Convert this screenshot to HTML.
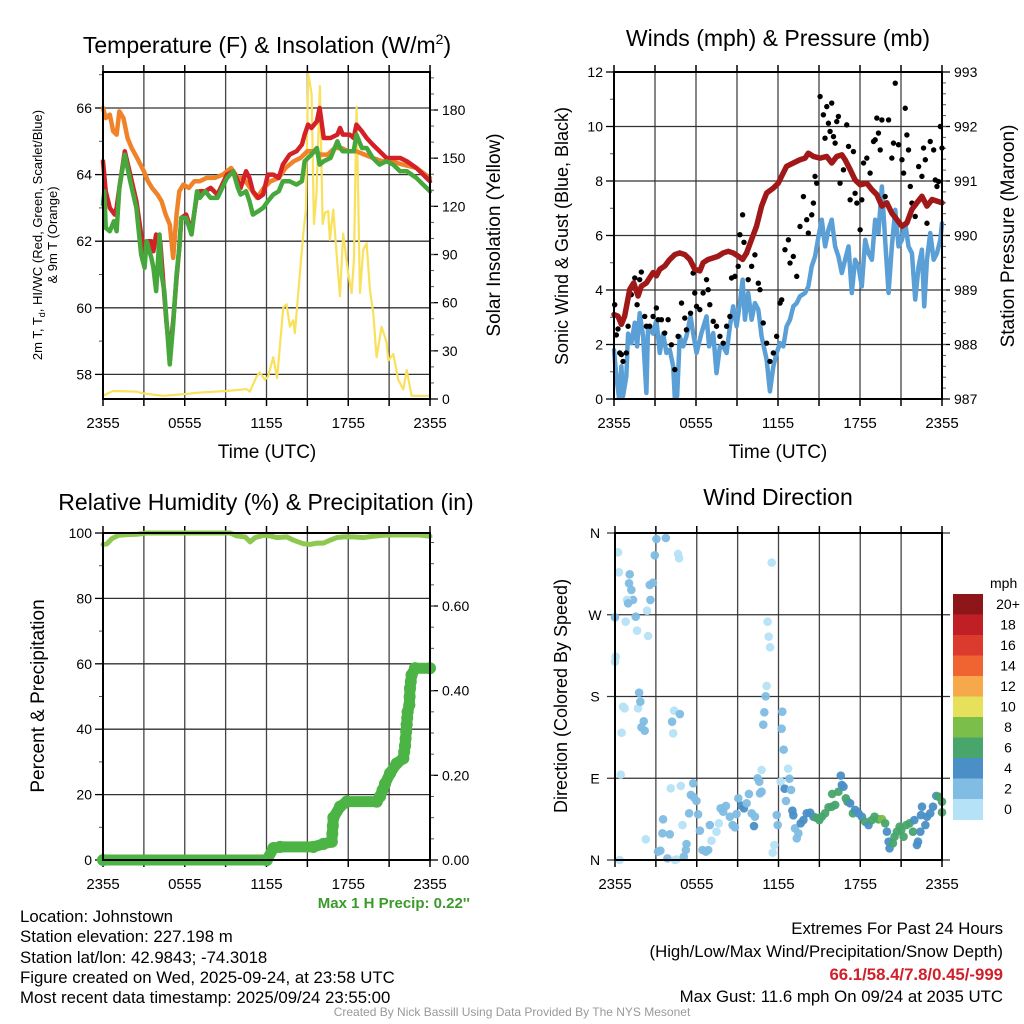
<!DOCTYPE html>
<html><head><meta charset="utf-8">
<style>
html,body{margin:0;padding:0;background:#fff;}
svg{display:block;font-family:"Liberation Sans",Arial,sans-serif;}
</style></head>
<body>
<svg id="chart" width="1024" height="1024" viewBox="0 0 1024 1024" xmlns="http://www.w3.org/2000/svg">
<rect x="0" y="0" width="1024" height="1024" fill="#fff"/>
<!-- titles -->
<text x="267" y="53" font-size="23" text-anchor="middle">Temperature (F) &amp; Insolation (W/m<tspan font-size="14" dy="-9">2</tspan><tspan dy="9">)</tspan></text>
<text x="778" y="46" font-size="23" text-anchor="middle">Winds (mph) &amp; Pressure (mb)</text>
<text x="266" y="510" font-size="23" text-anchor="middle">Relative Humidity (%) &amp; Precipitation (in)</text>
<text x="778" y="505" font-size="23" text-anchor="middle">Wind Direction</text>
<!-- axis titles -->
<text transform="translate(42,235) rotate(-90)" font-size="13" text-anchor="middle">2m T, T<tspan font-size="9" dy="3">d</tspan><tspan dy="-3">, HI/WC (Red, Green, Scarlet/Blue)</tspan></text>
<text transform="translate(57,235) rotate(-90)" font-size="13" text-anchor="middle">&amp; 9m T (Orange)</text>
<text transform="translate(500,235) rotate(-90)" font-size="19" text-anchor="middle">Solar Insolation (Yellow)</text>
<text x="267" y="458" font-size="19" text-anchor="middle">Time (UTC)</text>
<text transform="translate(568,236) rotate(-90)" font-size="18" text-anchor="middle">Sonic Wind &amp; Gust (Blue, Black)</text>
<text transform="translate(1014,236) rotate(-90)" font-size="19" text-anchor="middle">Station Pressure (Maroon)</text>
<text x="778" y="458" font-size="19" text-anchor="middle">Time (UTC)</text>
<text transform="translate(44,696) rotate(-90)" font-size="19" text-anchor="middle">Percent &amp; Precipitation</text>
<text transform="translate(567,696) rotate(-90)" font-size="18" text-anchor="middle">Direction (Colored By Speed)</text>
<text x="470" y="908" font-size="15" font-weight="bold" fill="#3a9a2a" text-anchor="end">Max 1 H Precip: 0.22''</text>
<!-- footer -->
<g font-size="16.8">
<text x="20" y="922">Location: Johnstown</text>
<text x="20" y="942">Station elevation: 227.198 m</text>
<text x="20" y="963">Station lat/lon: 42.9843; -74.3018</text>
<text x="20" y="983">Figure created on Wed, 2025-09-24, at 23:58 UTC</text>
<text x="20" y="1003">Most recent data timestamp: 2025/09/24 23:55:00</text>
</g>
<g font-size="16.8" text-anchor="end">
<text x="1003" y="934">Extremes For Past 24 Hours</text>
<text x="1003" y="957">(High/Low/Max Wind/Precipitation/Snow Depth)</text>
<text x="1003" y="980" fill="#d0202a" font-weight="bold">66.1/58.4/7.8/0.45/-999</text>
<text x="1003" y="1002">Max Gust: 11.6 mph On 09/24 at 2035 UTC</text>
</g>
<text x="512" y="1016" font-size="12" fill="#999" text-anchor="middle">Created By Nick Bassill Using Data Provided By The NYS Mesonet</text>
</svg>
<script>
// ---------- DATA ----------
const xTickLabels = ["2355","0555","1155","1755","2355"];
const tempTickLabels = [58,60,62,64,66];
const insolTickLabels = [0,30,60,90,120,150,180];
const windTickLabels = [0,2,4,6,8,10,12];
const pressTickLabels = [987,988,989,990,991,992,993];
const rhTickLabels = [0,20,40,60,80,100];
const precipTickLabels = ["0.00","0.20","0.40","0.60"];
const dirTickLabels = ["N","E","S","W","N"];
const speedLegendLabels = ["0","2","4","6","8","10","12","14","16","18","20+"];

const tTime = [0,0.2,0.5,0.86,1.0,1.2,1.6,2.0,2.45,2.8,3.05,3.2,3.55,3.7,3.9,4.2,4.4,4.65,4.9,5.15,5.4,5.6,5.75,6.1,6.5,6.9,7.1,7.5,7.9,8.4,9.1,9.55,9.9,10.1,10.5,10.75,11.0,11.4,11.75,12.1,12.5,12.9,13.2,13.7,14.2,14.6,14.8,15.05,15.3,15.7,15.9,16.2,16.7,17.2,17.4,17.6,18.1,18.4,18.6,19.0,19.35,19.8,20.3,20.8,21.3,21.8,22.3,23.0,23.5,24];
const tempRed = [64.4,63.5,63.0,62.8,63.0,63.6,64.7,64.0,63.2,62.2,61.4,62.0,62.0,61.7,62.2,62.0,60.9,59.6,58.6,59.6,60.9,61.8,62.7,62.8,62.3,63.4,63.5,63.5,63.6,63.4,64.0,64.1,63.8,63.6,64.1,63.9,63.5,63.3,63.4,64.0,64.0,63.9,64.3,64.6,64.7,64.9,65.2,65.5,65.4,65.6,66.0,65.1,65.1,65.2,65.4,65.2,65.2,65.1,65.5,65.3,65.1,64.9,64.7,64.5,64.5,64.5,64.4,64.2,64.0,63.8];
const dTime = [0,0.1,0.2,0.5,0.8,1.0,1.2,1.6,2.0,2.45,2.8,3.05,3.2,3.55,3.7,3.9,4.15,4.3,4.5,4.7,4.9,5.15,5.4,5.6,5.75,6.1,6.5,6.9,7.1,7.5,7.9,8.4,9.1,9.55,9.9,10.1,10.5,10.75,11.0,11.4,11.75,12.1,12.5,12.9,13.2,13.7,14.2,14.6,14.8,15.05,15.3,15.7,15.9,16.2,16.7,17.2,17.4,17.6,18.1,18.4,18.6,19.0,19.35,19.8,20.3,20.8,21.3,21.8,22.3,23.0,23.5,24];
const tempGreen = [63.1,63.5,62.4,62.3,62.6,62.3,63.6,64.6,63.8,63.0,61.6,61.2,62.0,61.5,61.2,60.5,62.2,61.0,60.5,59.4,58.3,59.5,61.0,61.8,62.7,62.7,62.2,63.5,63.3,63.5,63.3,63.3,63.9,64.1,63.6,63.4,63.5,63.2,62.8,62.9,63.0,63.2,63.4,63.5,63.8,63.8,63.7,63.8,64.4,64.5,64.6,64.8,64.3,64.4,64.5,65.0,64.8,64.7,64.7,64.7,65.2,64.8,64.8,64.5,64.3,64.4,64.3,64.1,64.1,63.9,63.7,63.5];
const oTime = [0,0.2,0.5,0.75,1.0,1.2,1.5,1.8,2.1,2.5,3.0,3.3,3.6,4.0,4.3,4.6,4.9,5.15,5.4,5.6,5.9,6.3,6.7,7.1,7.6,8.2,8.8,9.4,9.9,10.3,10.8,11.3,11.8,12.3,12.9,13.4,14.0,14.5,15.0,15.5,16.0,16.5,17.0,17.5,18.0,18.6,19.2,19.8,20.5,21.2,22.0,23.0,24];
const temp9m = [66.0,65.7,65.8,65.3,65.2,65.9,65.7,65.1,64.8,64.5,64.1,63.8,63.6,63.4,63.2,62.8,62.5,61.5,62.8,63.5,63.7,63.6,63.8,63.8,63.9,63.9,64.0,64.2,63.9,63.9,63.6,63.3,63.6,63.8,63.9,64.2,64.4,64.5,64.7,64.7,64.6,64.6,64.8,64.8,64.7,64.7,64.6,64.5,64.4,64.4,64.3,64.2,63.9];
const sTime = [0,0.73,2.45,2.94,4.41,5.88,7.1,9.06,10.53,10.78,11.27,11.51,11.88,12.12,12.49,12.78,13.23,13.47,13.72,13.96,14.08,14.33,14.7,14.89,15.06,15.31,15.48,15.67,15.92,16.12,16.29,16.53,16.65,16.9,17.14,17.39,17.63,18.0,18.25,18.42,18.61,18.86,19.1,19.35,19.59,19.84,20.08,20.45,20.82,20.94,21.31,21.67,22.04,22.29,22.65,24];
const insolation = [2,5,4.6,3.5,2,3,4,5,6.2,4.6,14,16.5,12,14,26,13,57,59,45,49,41,66,103,118,203,190,109,128,195,109,116,117,99,118,91,64,103,78,66,87,182,66,93,97,68,53,26,45,35,24,28,12,6,18,2,2];

const wTime = [0,.17,.37,.54,.66,.9,1.03,1.27,1.52,1.69,1.88,2.13,2.37,2.49,2.86,3.1,3.35,3.59,3.84,4.08,4.33,4.45,4.62,4.81,5.06,5.3,5.6,5.79,6.04,6.4,6.77,6.96,7.26,7.5,7.75,7.99,8.24,8.48,8.72,8.97,9.21,9.41,9.58,9.82,10.07,10.31,10.56,10.8,11.17,11.41,11.66,11.9,12.15,12.39,12.63,12.88,13.12,13.37,13.61,13.98,14.22,14.47,14.71,14.96,15.2,15.45,15.69,15.93,16.18,16.42,16.67,16.91,17.16,17.4,17.64,17.89,18.13,18.38,18.62,18.87,19.11,19.35,19.6,19.84,20.09,20.33,20.58,20.82,21.07,21.31,21.55,21.8,22.04,22.29,22.53,22.7,22.9,23.14,23.39,23.63,23.88,24];
const windSpeed = [1.8,.83,.04,1.2,.1,.83,2.4,2.05,2.8,1.93,3.15,2.3,.22,2.65,2.4,2.9,1.69,2.4,1.69,1.81,1.2,.04,.1,2.3,1.93,2.3,3.03,2.42,1.69,2.42,3.03,1.93,2.42,.95,1.93,1.93,1.69,2.67,3.4,2.67,3.52,4.38,2.91,3.89,2.91,3.52,3.28,2.3,1.44,.28,1.2,1.69,2.05,1.93,2.67,2.91,3.4,3.52,3.77,3.89,4.13,4.87,5.23,5.96,6.58,5.6,6.21,6.58,5.6,5.23,4.62,5.11,5.6,3.89,5.11,4.87,4.13,5.84,5.35,5.11,6.58,6.09,7.8,5.84,3.89,5.6,6.94,5.6,5.84,6.45,5.6,5.35,3.65,4.87,5.48,3.4,5.11,6.09,5.11,5.35,5.84,6.45];
const pTime = [0,.29,.54,.78,1.15,1.44,1.76,2.0,2.37,2.86,3.1,3.35,3.71,4.08,4.45,4.81,5.18,5.55,5.91,6.28,6.52,6.89,7.26,7.62,7.99,8.36,8.72,9.09,9.41,9.7,10.07,10.43,10.8,11.17,11.66,12.02,12.27,12.63,13.12,13.61,13.98,14.22,14.59,15.08,15.57,15.93,16.3,16.67,16.91,17.28,17.64,18.01,18.5,18.87,19.23,19.6,19.96,20.33,20.7,21.07,21.43,21.8,22.16,22.53,22.9,23.27,23.63,24];
const pressure = [988.55,988.52,988.37,988.52,989.01,989.13,988.89,989.07,989.13,989.32,989.26,989.38,989.44,989.56,989.65,989.68,989.65,989.56,989.38,989.35,989.5,989.56,989.59,989.62,989.68,989.71,989.68,989.62,989.56,989.68,989.93,990.17,990.54,990.78,990.87,990.96,991.09,991.27,991.33,991.39,991.42,991.51,991.45,991.42,991.45,991.33,991.45,991.48,991.39,991.21,991.02,990.93,990.96,990.84,990.75,990.54,990.6,990.41,990.29,990.17,990.23,990.48,990.6,990.72,990.54,990.66,990.63,990.6];
const gTime = [.05,.17,.29,.42,.54,.66,.9,1.03,1.27,1.52,1.69,1.88,2.0,2.25,2.37,2.61,2.86,3.1,3.23,3.47,3.71,3.96,4.2,4.45,4.69,4.94,5.18,5.3,5.6,5.79,5.91,6.04,6.28,6.52,6.77,6.89,7.01,7.26,7.5,7.75,7.99,8.24,8.48,8.6,8.85,9.09,9.21,9.41,9.51,9.7,9.82,10.07,10.31,10.56,10.68,10.92,11.17,11.41,11.66,11.9,12.15,12.27,12.51,12.76,12.88,13.12,13.37,13.61,13.86,14.1,14.22,14.47,14.59,14.71,14.83,15.08,15.32,15.44,15.57,15.69,15.81,15.93,16.06,16.18,16.3,16.42,16.54,16.79,17.03,17.16,17.28,17.52,17.64,17.77,18.01,18.13,18.26,18.5,18.74,18.99,19.11,19.23,19.35,19.48,19.6,19.84,20.09,20.33,20.45,20.58,20.82,21.07,21.19,21.31,21.43,21.55,21.68,21.8,22.04,22.29,22.53,22.65,22.78,22.9,23.14,23.39,23.51,23.63,23.75,23.88,24];
const gustSpeed = [3.46,2.35,2.57,1.69,1.63,1.38,1.69,2.67,3.83,4.44,3.46,4.38,4.66,3.03,2.67,2.67,3.03,3.34,2.91,2.91,2.42,2.91,1.99,1.08,2.3,3.52,2.97,2.54,3.15,4.62,3.89,3.4,3.28,3.89,4.38,4.01,3.46,2.85,2.67,2.3,2.05,2.67,3.03,4.44,4.5,4.87,6.03,6.76,5.75,5.35,4.38,4.87,5.29,4.25,4.01,2.79,2.05,1.38,1.69,2.3,3.52,3.64,5.48,5.84,4.99,5.23,4.5,6.33,7.43,6.58,6.09,6.76,7.19,8.17,7.92,11.1,10.43,9.57,10.73,10.12,9.82,10.86,9.63,9.39,10.18,10.37,7.92,8.41,10.06,9.27,7.31,9.08,7.55,7.19,6.21,7.31,8.66,8.84,8.29,9.45,9.51,10.31,9.76,9.14,10.24,7.43,10.24,8.84,9.39,11.59,9.33,8.78,8.29,10.67,9.69,9.14,7.8,7.19,6.7,8.53,8.17,9.21,8.78,6.45,9.45,9.14,8.04,7.8,7.98,10.0,9.21];

const rhTime = [0,.29,.66,1.15,1.76,2.49,3.23,4.2,6.65,8.6,9.34,9.82,10.43,10.8,11.17,11.78,12.27,12.76,13.49,13.98,14.71,15.2,15.69,16.18,16.67,17.16,17.64,18.38,19.11,19.84,20.58,21.31,22.53,23.26,24];
const relHumidity = [96.5,96.7,98.3,99.3,99.5,99.6,100,100,100,100,100,99.1,98.8,97.3,98.6,99.3,99.1,98.6,98.8,97.8,96.7,96.5,96.9,96.9,97.8,98.6,98.8,98.8,98.6,99,99.3,99.4,99.4,99.4,99];
const prTime = [0,12.02,12.51,13.0,15.44,16.18,16.79,16.91,17.4,17.89,20.09,20.33,20.7,21.07,21.55,22.04,22.17,22.29,22.36,22.48,22.53,22.65,22.9,24];
const precipAccum = [0,0,.028,.031,.031,.038,.043,.10,.126,.138,.138,.15,.18,.205,.228,.24,.27,.32,.35,.366,.405,.437,.453,.453];

const dirTime = [.22,.29,1.08,1.03,1.2,1.32,.88,.96,0,.78,1.52,1.62,2.43,2.35,2.6,2.55,2.79,2.92,3.04,3.73,4.63,4.71,.05,0,.59,.71,1.69,1.77,1.86,2.11,1.94,2.18,.49,.42,.34,2.26,3.16,3.33,3.48,4.02,3.53,3.85,4.39,4.51,5.05,5.25,5.2,4.95,4.83,4.09,4.19,4.34,4.76,4.27,5.74,5.57,5.79,5.98,5.44,6.1,6.23,6.42,6.67,6.84,7.08,6.96,7.45,7.62,7.75,7.94,8.14,8.43,8.63,8.8,8.92,9.05,9.29,9.46,9.66,9.83,10.03,10.27,10.2,10.64,10.76,10.47,10.59,10.76,11.06,11.13,10.96,10.88,11.2,11.28,11.38,11.5,11.57,11.69,11.87,11.94,12.28,12.23,12.38,12.7,12.8,12.16,12.45,12.55,12.92,13.02,13.09,13.21,13.34,13.46,13.63,13.83,14.07,14.32,14.56,14.76,15.0,15.18,15.42,15.67,15.91,16.16,15.94,16.4,16.57,16.65,16.77,16.94,17.06,17.26,17.46,17.63,17.87,18.12,18.36,18.61,18.85,19.05,19.34,19.59,19.83,19.96,20.15,20.08,20.4,20.52,20.69,20.89,21.01,21.18,21.38,21.62,21.87,21.97,22.24,22.16,22.41,22.53,22.46,22.78,22.9,23.14,23.34,23.58,23.76,24.0,24.0];
const dirDegrees = [338.7,316.7,314.5,304.6,297.3,286.3,286.3,282.6,267.2,262.4,267.9,252.5,246.6,274.5,286.3,302.8,305.3,335.4,353.4,354.5,336.9,332.1,223.9,218.4,168.8,167.0,167.0,184.2,174.3,152.7,146.1,142.4,140.2,94.0,0,22.8,9.2,10.3,29.4,28.3,44.8,1.8,0,0.7,3.7,17.6,11,38.5,81.5,78.9,152.3,164.4,160.7,139.5,84.4,71.6,69.0,65.0,51.4,50.3,32.3,11,9.2,11,21.3,38.5,31.2,40.4,56.9,53.2,59.5,47.7,38.5,36.0,50.6,67.9,59.8,56.9,62.4,72.7,51.4,47.7,37.4,73.4,75.2,89.9,86.2,99.1,180.2,191.6,162.6,149.0,262.4,245.9,234.1,327.4,8.1,16.5,49.5,38.5,163.3,144.6,121.5,100.6,89.5,86.2,78.5,65.0,77.1,54.3,49.2,34.9,23.9,29.4,40.4,44.0,51.4,52.1,47.7,46.6,44.0,47.7,51.4,58.0,58.7,60.6,72.7,75.2,92.9,82.6,80.7,67.9,64.2,62.4,51.4,55.1,51.4,47.7,42.2,38.5,44.0,47.7,44.8,45.1,40.4,31.2,12.8,20.2,18.4,25.7,31.2,36.7,33.0,25.7,38.5,40.4,31.2,44.0,20.2,16.5,31.2,58.7,49.5,38.5,47.7,51.4,58.7,70.5,69.7,64.2,52.5];
const dirSpeed = [1,1,3,3,3,3,1,3,3,1,3,1,1,1,3,3,3,3,3,3,1,1,1,1,1,1,1,3,3,3,3,3,1,1,1,1,3,3,3,3,3,3,1,1,3,3,3,1,1,1,3,1,3,1,3,3,3,3,3,3,3,3,3,3,1,3,1,1,3,3,3,3,3,3,3,3,5,5,3,3,3,3,5,3,3,3,3,1,3,1,3,3,1,1,1,1,1,1,3,3,3,3,3,1,3,1,5,3,3,5,5,3,3,3,5,5,5,5,5,7,7,7,7,7,7,7,7,7,5,5,5,7,7,5,7,5,5,5,7,5,7,7,7,9,7,5,5,5,7,7,7,7,7,7,7,7,7,5,5,5,5,5,5,5,5,5,5,5,7,7,7,5,7];
const speedColors = ["#b5e2f6","#80bce3","#4a8fc6","#48a56c","#7bbf4a","#e6e05a","#f5a94a","#ef6430","#dc3a2c","#c01f26","#8e1518"];

// ---------- RENDER ----------
const NS = "http://www.w3.org/2000/svg";
const svg = document.getElementById('chart');
function mk(tag, attrs, parent){const e=document.createElementNS(NS,tag);for(const k in attrs)e.setAttribute(k,attrs[k]);(parent||svg).appendChild(e);return e;}
function lin(d0,d1,r0,r1){return v=>r0+(v-d0)*(r1-r0)/(d1-d0);}

function frame(name,x0,y0,x1,y1,labOff){
  const g=mk('g',{});
  
  
  const sx=lin(0,24,x0,x1);
  for(let h=3;h<24;h+=3){
    const l=mk('line',{x1:sx(h),x2:sx(h),y1:y0,y2:y1,stroke:'#444','stroke-width':1.3},g);
    
    
  }
  for(let h=0;h<=24;h+=3){
    mk('line',{x1:sx(h),x2:sx(h),y1:y1,y2:y1+7,stroke:'#000','stroke-width':1.5},g);
    mk('line',{x1:sx(h),x2:sx(h),y1:y0,y2:y0-7,stroke:'#000','stroke-width':1.5},g);
  }
  xTickLabels.forEach((t,i)=>{
    const tx=mk('text',{x:sx(i*6),y:y1+labOff,'font-size':15,'text-anchor':'middle'},g);
    tx.textContent=t;
    
    
  });
  return {g,sx};
}
function hgrid(g,x0,x1,ys){ys.forEach(y=>mk('line',{x1:x0,x2:x1,y1:y,y2:y,stroke:'#333','stroke-width':1.3},g));}
function leftAxis(g,x0,ymap,vals,minor,fmt){
  vals.forEach(v=>{const y=ymap(v);mk('line',{x1:x0-8,x2:x0,y1:y,y2:y,stroke:'#000','stroke-width':1.3},g);
    const t=mk('text',{x:x0-11,y:y+5,'font-size':14,'text-anchor':'end'},g);t.textContent=fmt?fmt(v):v;
    });
  minor.forEach(v=>{const y=ymap(v);mk('line',{x1:x0-4,x2:x0,y1:y,y2:y,stroke:'#555','stroke-width':1},g);});
}
function rightAxis(g,x1,ymap,vals,minor,fmt){
  vals.forEach(v=>{const y=ymap(v);mk('line',{x1:x1,x2:x1+8,y1:y,y2:y,stroke:'#000','stroke-width':1.3},g);
    const t=mk('text',{x:x1+12,y:y+5,'font-size':14,'text-anchor':'start'},g);t.textContent=fmt?fmt(v):v;
    });
  minor.forEach(v=>{const y=ymap(v);mk('line',{x1:x1,x2:x1+4,y1:y,y2:y,stroke:'#555','stroke-width':1},g);});
}
function border(g,x0,y0,x1,y1){mk('rect',{x:x0,y:y0,width:x1-x0,height:y1-y0,fill:'none',stroke:'#000','stroke-width':2},g);}
function pline(g,xs,ys,sx,sy,color,w,name){
  const p=mk('polyline',{points:xs.map((x,i)=>sx(x)+','+sy(ys[i])).join(' '),fill:'none',stroke:color,'stroke-width':w,'stroke-linejoin':'round','stroke-linecap':'round'},g);
  
  
  return p;
}
function range(a,b,s){const r=[];for(let v=a;v<=b+1e-9;v+=s)r.push(+v.toFixed(4));return r;}

// Panel 1: temperature
(function(){
  const x0=103,y0=72,x1=430,y1=399;
  const {g,sx}=frame('temperature-panel',x0,y0,x1,y1,29);
  const sy=lin(58,66,374.4,108);
  const si=lin(0,180,399,110);
  hgrid(g,x0,x1,tempTickLabels.map(sy));
  leftAxis(g,x0,sy,tempTickLabels,range(57.5,67,1).map(v=>Math.round(v)).filter(v=>v%2),null);
  rightAxis(g,x1,si,insolTickLabels,range(10,200,10),null);
  pline(g,sTime,insolation,sx,si,'#f9e15c',2.2,'insolation-line');
  pline(g,oTime,temp9m,sx,sy,'#f0832a',4.5,'temp-9m-line');
  pline(g,tTime,tempRed,sx,sy,'#d42128',4.5,'temp-2m-line');
  pline(g,dTime,tempGreen,sx,sy,'#46a83c',4.5,'dewpoint-line');
  border(g,x0,y0,x1,y1);
})();

// Panel 2: winds
(function(){
  const x0=614,y0=72,x1=942,y1=399;
  const {g,sx}=frame('winds-panel',x0,y0,x1,y1,29);
  const sy=lin(0,12,399,72);
  const sp=lin(987,993,399,72);
  hgrid(g,x0,x1,windTickLabels.map(sy));
  leftAxis(g,x0,sy,windTickLabels,range(1,11,2),null);
  rightAxis(g,x1,sp,pressTickLabels,range(987.2,992.8,0.2),null);
  pline(g,wTime,windSpeed,sx,sy,'#5a9fd6',4.5,'wind-speed-line');
  gTime.forEach((h,i)=>{
    const c=mk('circle',{cx:sx(h),cy:sy(gustSpeed[i]),r:2.7,fill:'#000'},g);
    
    
  });
  pline(g,pTime,pressure,sx,sp,'#a01818',5.5,'pressure-line');
  border(g,x0,y0,x1,y1);
})();

// Panel 3: RH & precip
(function(){
  const x0=103,y0=533,x1=430,y1=860;
  const {g,sx}=frame('humidity-panel',x0,y0,x1,y1,29);
  const sy=lin(0,100,860,533);
  const sp=lin(0,0.6,860,606);
  hgrid(g,x0,x1,rhTickLabels.map(sy));
  leftAxis(g,x0,sy,rhTickLabels,range(10,90,20),null);
  rightAxis(g,x1,sp,[0,0.2,0.4,0.6],range(0.05,0.75,0.05),v=>v.toFixed(2));
  pline(g,rhTime,relHumidity,sx,sy,'#8fc850',5,'humidity-line');
  pline(g,prTime,precipAccum,sx,sp,'#4cb445',11,'precip-line');
  for(let i=1;i<prTime.length;i++){
    const dv=precipAccum[i]-precipAccum[i-1];
    const n=Math.max(1,Math.round(Math.abs(sp(precipAccum[i])-sp(precipAccum[i-1]))/8));
    for(let k=0;k<=n;k++){
      const h=prTime[i-1]+(prTime[i]-prTime[i-1])*k/n, v=precipAccum[i-1]+dv*k/n;
      const c=mk('circle',{cx:sx(h),cy:sp(v),r:6,fill:'#4cb445'},g);
      
      
    }
  }
  border(g,x0,y0,x1,y1);
})();

// Panel 4: wind direction
(function(){
  const x0=615,y0=533,x1=942,y1=860;
  const {g,sx}=frame('wind-direction-panel',x0,y0,x1,y1,29);
  const sy=lin(0,360,860,533);
  const deg=[0,90,180,270,360];
  hgrid(g,x0-8,x1+8,deg.map(sy));
  deg.forEach((d,i)=>{const t=mk('text',{x:x0-20,y:sy(d)+5,'font-size':14,'text-anchor':'middle'},g);t.textContent=dirTickLabels[i];
    });
  dirTime.forEach((h,i)=>{
    const c=mk('circle',{cx:sx(h),cy:sy(dirDegrees[i]),r:4.3,fill:speedColors[Math.min(10,Math.floor(dirSpeed[i]/2))],'fill-opacity':0.95},g);
    
    
  });
  border(g,x0,y0,x1,y1);
  // legend
  const lg=mk('g',{});
  
  
  const lx=953,lw=30,ltop=594,lh=20.5;
  const tt=mk('text',{x:990,y:588,'font-size':14,'text-anchor':'start'},lg);tt.textContent='mph';
  for(let k=0;k<11;k++){
    const idx=10-k;
    const r=mk('rect',{x:lx,y:ltop+k*lh,width:lw,height:lh+0.5,fill:speedColors[idx]},lg);
    
    
    const t=mk('text',{x:1008,y:ltop+k*lh+15,'font-size':14,'text-anchor':'middle'},lg);
    t.textContent=speedLegendLabels[idx];
    
    
  }
})();
</script>
</body></html>
